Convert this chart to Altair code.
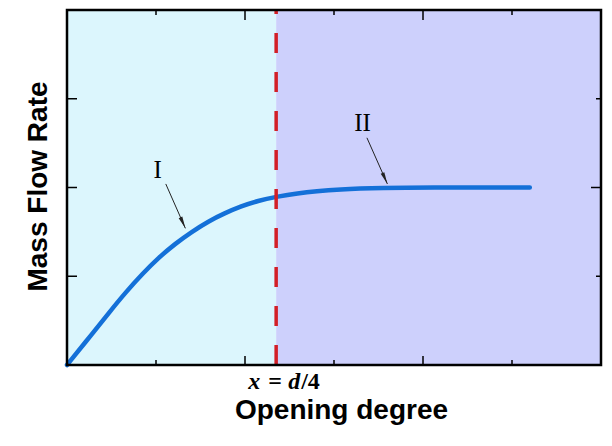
import altair as alt
import pandas as pd

# ---- data ----
curve_x = [0.0, 0.29, 0.48, 0.66, 0.85, 1.03, 1.22, 1.40, 1.59, 1.77, 1.96, 2.14, 2.37, 2.59, 2.81, 3.02, 3.58, 4.0, 5.2]
curve_y = [0.0, 0.36, 0.60, 0.82, 1.03, 1.21, 1.37, 1.50, 1.62, 1.71, 1.79, 1.85, 1.90, 1.935, 1.96, 1.978, 1.995, 2.0, 2.0]

x_min, x_max = 0, 6
y_min, y_max = 0, 4
split_x = 2.35  # x = d/4

x_major_ticks = [2, 4]
x_minor_ticks = [1, 3, 5]
y_left_ticks = [1, 2, 3]
y_right_major = [2]
y_right_minor = [1, 3]

region_labels = ["I", "II"]
label_x = [1.02, 3.32]
label_y = [2.20, 2.73]
arrow_x0 = [1.11, 3.37]
arrow_y0 = [2.04, 2.56]
arrow_x1 = [1.33, 3.60]
arrow_y1 = [1.54, 2.04]

W, H = 534, 355

xs = alt.Scale(domain=[x_min, x_max], nice=False, zero=False)
ys = alt.Scale(domain=[y_min, y_max], nice=False, zero=False)

curve_df = pd.DataFrame({"x": curve_x, "y": curve_y})
regions_df = pd.DataFrame({
    "x0": [x_min, split_x], "x1": [split_x, x_max],
    "y0": [y_min, y_min], "y1": [y_max, y_max],
    "region": ["I", "II"],
})
frame_df = pd.DataFrame({"x0": [x_min], "x1": [x_max], "y0": [y_min], "y1": [y_max]})
split_df = pd.DataFrame({"x": [split_x], "y0": [y_min], "y1": [y_max]})
labels_df = pd.DataFrame({"t": region_labels, "x": label_x, "y": label_y})
arrows_df = pd.DataFrame({"x0": arrow_x0, "y0": arrow_y0, "x1": arrow_x1, "y1": arrow_y1})

xaxis = alt.Axis(title="Opening degree", labels=False, ticks=False, domain=False, grid=False,
                 titleFont="Liberation Sans", titleFontSize=28, titleFontWeight="bold",
                 titleColor="black", titleBaseline="alphabetic", titleY=53, titleX=274)
yaxis = alt.Axis(title="Mass Flow Rate", labels=False, ticks=False, domain=False, grid=False,
                 titleFont="Liberation Sans", titleFontSize=28, titleFontWeight="bold",
                 titleColor="black", titleBaseline="alphabetic", titleX=-21, titleY=176,
                 titleAngle=270)

bg = alt.Chart(regions_df).mark_rect(stroke=None).encode(
    x=alt.X("x0:Q", scale=xs, axis=xaxis),
    x2="x1:Q",
    y=alt.Y("y0:Q", scale=ys, axis=yaxis),
    y2="y1:Q",
    color=alt.Color("region:N", scale=alt.Scale(domain=["I", "II"], range=["#dcf6fd", "#cdd0fc"]), legend=None),
)

split = alt.Chart(split_df).mark_rule(color="#d21f26", strokeWidth=3.5, strokeDash=[20, 19]).encode(
    x=alt.X("x:Q", scale=xs), y=alt.Y("y0:Q", scale=ys), y2="y1:Q")

line = alt.Chart(curve_df).mark_line(color="#1470d8", strokeWidth=4.5, interpolate="basis",
                                     strokeCap="round").encode(
    x=alt.X("x:Q", scale=xs), y=alt.Y("y:Q", scale=ys))

arrows = alt.Chart(arrows_df).mark_rule(color="#222222", strokeWidth=1).encode(
    x=alt.X("x0:Q", scale=xs), y=alt.Y("y0:Q", scale=ys), x2="x1:Q", y2="y1:Q")

heads = alt.Chart(arrows_df).mark_point(
    shape="M0,0L0.33,2L-0.33,2Z", size=144, filled=True, color="#222222", opacity=1, angle=156,
    strokeWidth=0).encode(x=alt.X("x1:Q", scale=xs), y=alt.Y("y1:Q", scale=ys))

labels = alt.Chart(labels_df).mark_text(font="Liberation Serif", fontSize=25, color="black",
                                        baseline="middle", align="center").encode(
    x=alt.X("x:Q", scale=xs), y=alt.Y("y:Q", scale=ys), text="t:N")

def piece(txt, dx, italic):
    return alt.Chart(split_df).mark_text(
        text=txt, font="Liberation Serif", fontSize=24, fontWeight="bold",
        fontStyle="italic" if italic else "normal", align="left", baseline="alphabetic",
        dx=dx, color="black").encode(x=alt.X("x:Q", scale=xs), y=alt.value(H + 24))

xlabel = [piece("x", -28, True), piece("=", -8, False), piece("d", 12, True), piece("/4", 25, False)]

def vticks(vals, y0, y1):
    return alt.Chart(pd.DataFrame({"v": vals})).mark_rule(color="black", strokeWidth=1.5).encode(
        x=alt.X("v:Q", scale=xs), y=alt.value(y0), y2=alt.value(y1))

def hticks(vals, x0, x1):
    return alt.Chart(pd.DataFrame({"v": vals})).mark_rule(color="black", strokeWidth=1.5).encode(
        y=alt.Y("v:Q", scale=ys), x=alt.value(x0), x2=alt.value(x1))

ticks = [
    vticks(x_major_ticks, H, H - 9), vticks(x_minor_ticks, H, H - 5),
    vticks(x_major_ticks, 0, 10), vticks(x_minor_ticks, 0, 5),
    hticks(y_left_ticks, 0, 10),
    hticks(y_right_major, W, W - 10), hticks(y_right_minor, W, W - 5),
]

frame = alt.Chart(frame_df).mark_rect(fill=None, stroke="black", strokeWidth=2.5).encode(
    x=alt.X("x0:Q", scale=xs), x2="x1:Q", y=alt.Y("y0:Q", scale=ys), y2="y1:Q")

chart = alt.layer(bg, line, split, arrows, heads, labels, *xlabel, *ticks, frame).properties(
    width=W, height=H,
    autosize=alt.AutoSizeParams(type="none"),
    padding={"left": 59, "top": 2, "right": 3, "bottom": 63},
).configure_view(stroke=None)

chart.save("out.html", embed_options={"renderer": "svg", "actions": False})
